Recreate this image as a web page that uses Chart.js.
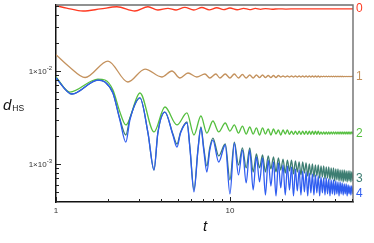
<!DOCTYPE html>
<html>
<head>
<meta charset="utf-8">
<script src="https://cdn.jsdelivr.net/npm/chart.js@4.4.1/dist/chart.umd.min.js"></script>
<style>
  html, body { margin: 0; padding: 0; background: #fff; }
  canvas { display: block; }
</style>
</head>
<body>
<canvas id="chart" width="374" height="243"></canvas>
<script>
// axis ticks
const xTickVals = [1, 2, 3, 4, 5, 6, 7, 8, 9, 10, 20, 30, 40, 50];
const xLabelVals = [1, 10];
const yTickVals = [4e-4, 5e-4, 6e-4, 7e-4, 8e-4, 9e-4, 1e-3, 2e-3, 3e-3, 4e-3, 5e-3, 6e-3, 7e-3, 8e-3, 9e-3, 1e-2, 2e-2, 3e-2, 4e-2, 5e-2];
const yLabelVals = [1e-3, 1e-2];
const yLabelExp = ['-3', '-2'];

// series names / end levels (right-hand labels)
const seriesNames = ['0', '1', '2', '3', '4'];
const seriesColors = ['#ff3a22', '#c4925e', '#55bf3f', '#3d7d72', '#2f5df0'];
const labelLevels = [0.0470, 0.00873, 0.00215, 0.000707, 0.000480];

// early part of each curve: [t, d_HS]
const redPts = [[1, 0.0504], [1.15, 0.0476], [1.43, 0.0442], [1.8, 0.0465], [2.24, 0.0491], [2.84, 0.0442], [3.38, 0.0491],
  [3.85, 0.0453], [4.4, 0.0472], [4.9, 0.0453], [5.5, 0.0484], [6.2, 0.0453], [6.9, 0.0482], [7.6, 0.0455], [8.4, 0.0479],
  [9.2, 0.0457], [10, 0.0476], [11, 0.0456], [12, 0.0473], [13, 0.0458], [14, 0.0471], [15, 0.0461], [16, 0.0469],
  [17.5, 0.0462], [19, 0.0467], [21, 0.0464], [24, 0.0466], [51, 0.0466]];

const brownHead = [[1, 0.0150], [1.2, 0.0110], [1.47, 0.00852], [1.99, 0.0128], [2.59, 0.00762], [3.25, 0.0105], [4.06, 0.00862],
  [4.64, 0.0100], [5.16, 0.00841], [5.74, 0.00952], [6.45, 0.00862], [7.18, 0.00929], [7.66, 0.00841], [8.30, 0.00929], [8.76, 0.00841]];

const greenHead = [[1, 0.00862], [1.2, 0.00594], [1.743, 0.00820], [1.912, 0.00800], [2.125, 0.00625], [2.33, 0.00362], [2.52, 0.00263],
  [3.04, 0.00580], [3.66, 0.00221], [4.23, 0.00410], [4.96, 0.00263], [5.66, 0.00354], [6.21, 0.00205], [6.81, 0.00328],
  [7.37, 0.00215], [7.98, 0.00290], [8.62, 0.00221]];

const tealHead = [[1, 0.00841], [1.235, 0.00566], [1.743, 0.00800], [1.912, 0.00762], [2.125, 0.00580], [2.33, 0.00305], [2.52, 0.00205],
  [2.66, 0.00310], [3.04, 0.00513], [3.38, 0.00215], [3.66, 0.000862], [3.85, 0.00215], [4.23, 0.00362], [4.7, 0.00210],
  [4.96, 0.00164], [5.2, 0.00220], [5.66, 0.00283], [5.9, 0.00145], [6.21, 0.000525], [6.55, 0.00145], [6.81, 0.00250],
  [7.07, 0.00150], [7.37, 0.000952], [7.66, 0.00150], [7.98, 0.00190], [8.62, 0.00122]];

const blueHead = [[1, 0.00841], [1.235, 0.00566], [1.743, 0.00800], [1.912, 0.00762], [2.125, 0.00580], [2.33, 0.00297], [2.52, 0.00172],
  [2.66, 0.00297], [3.04, 0.00513], [3.38, 0.00215], [3.66, 0.000862], [3.85, 0.00215], [4.23, 0.00362], [4.7, 0.00205],
  [4.96, 0.00152], [5.2, 0.00215], [5.66, 0.00276], [5.9, 0.00141], [6.21, 0.000500], [6.55, 0.00141], [6.81, 0.00244],
  [7.07, 0.00141], [7.37, 0.00082], [7.66, 0.00141], [7.98, 0.00181], [8.62, 0.00105]];

// late part: extrema times shared by the oscillating curves
const tTail = [9.4, 10.0, 10.6, 11.2, 11.8, 12.4, 13.0, 13.6, 14.2, 14.8, 15.4, 16.0, 16.6, 17.2, 17.8, 18.4, 19.0, 19.6, 20.2, 20.8,
  21.4, 22.0, 22.6, 23.2, 23.8, 24.4, 25.0, 25.6, 26.2, 26.8, 27.4, 28.0, 28.6, 29.2, 29.8, 30.4, 31.0, 31.6, 32.2, 32.8,
  33.4, 34.0, 34.6, 35.2, 35.8, 36.4, 37.0, 37.6, 38.2, 38.8, 39.4, 40.0, 40.6, 41.2, 41.8, 42.4, 43.0, 43.6, 44.2, 44.8,
  45.4, 46.0, 46.6, 47.2, 47.8, 48.4, 49.0, 49.6, 50.2, 51.0];

const brownTail = [0.00929, 0.00841, 0.00929, 0.00841, 0.00917, 0.00841, 0.00906, 0.00841, 0.00906, 0.00851,
  0.00906, 0.00851, 0.00895, 0.00851, 0.00895, 0.00851, 0.00895, 0.00862, 0.00884, 0.00862,
  0.00884, 0.00862, 0.00884, 0.00862, 0.00884, 0.00862, 0.00884, 0.00862, 0.00884, 0.00862,
  0.00884, 0.00862, 0.00884, 0.00862, 0.00884, 0.00862, 0.00884, 0.00862, 0.00884, 0.00862,
  0.00878, 0.00868, 0.00878, 0.00868, 0.00878, 0.00868, 0.00878, 0.00868, 0.00878, 0.00868,
  0.00878, 0.00868, 0.00878, 0.00868, 0.00878, 0.00868, 0.00878, 0.00868, 0.00878, 0.00868,
  0.00876, 0.00870, 0.00876, 0.00870, 0.00876, 0.00870, 0.00876, 0.00870, 0.00876, 0.00872];

const greenTail = [0.00276, 0.00226, 0.00263, 0.00215, 0.00256, 0.00210, 0.00250, 0.00210, 0.00244, 0.00205,
  0.00244, 0.00210, 0.00238, 0.00205, 0.00238, 0.00210, 0.00232, 0.00205, 0.00232, 0.00210,
  0.00232, 0.00208, 0.00226, 0.00208, 0.00226, 0.00208, 0.00226, 0.00208, 0.00226, 0.00208,
  0.00226, 0.00208, 0.00226, 0.00208, 0.00226, 0.00208, 0.00226, 0.00208, 0.00226, 0.00208,
  0.00222, 0.00210, 0.00222, 0.00210, 0.00222, 0.00210, 0.00222, 0.00210, 0.00222, 0.00210,
  0.00222, 0.00210, 0.00222, 0.00210, 0.00222, 0.00210, 0.00222, 0.00210, 0.00222, 0.00210,
  0.00222, 0.00210, 0.00222, 0.00210, 0.00222, 0.00210, 0.00222, 0.00210, 0.00222, 0.00210];

const tealTail = [0.00164, 0.000673, 0.00172, 0.000975, 0.00149, 0.000906, 0.00149, 0.000820, 0.00128, 0.000906,
  0.00125, 0.000820, 0.00122, 0.000884, 0.00119, 0.000820, 0.00116, 0.000862, 0.00113, 0.000800,
  0.00110, 0.000841, 0.00110, 0.000781, 0.00108, 0.000820, 0.00105, 0.000762, 0.00105, 0.000800,
  0.00103, 0.000743, 0.00100, 0.000762, 0.00100, 0.000725, 0.000975, 0.000743, 0.000975, 0.000707,
  0.000952, 0.000725, 0.000952, 0.000690, 0.000928, 0.000707, 0.000928, 0.000673, 0.000906, 0.000690,
  0.000906, 0.000657, 0.000884, 0.000673, 0.000884, 0.000657, 0.000862, 0.000657, 0.000862, 0.000641,
  0.000862, 0.000657, 0.000841, 0.000641, 0.000841, 0.000657, 0.000841, 0.000641, 0.000820, 0.000657];

const blueTail = [0.00160, 0.000476, 0.00168, 0.000762, 0.00141, 0.000625, 0.00141, 0.000525, 0.00119, 0.000641,
  0.00116, 0.000464, 0.00110, 0.000580, 0.00105, 0.000453, 0.00103, 0.000552, 0.000975, 0.000464,
  0.000952, 0.000525, 0.000928, 0.000453, 0.000884, 0.000513, 0.000862, 0.000464, 0.000841, 0.000500,
  0.000820, 0.000453, 0.000800, 0.000488, 0.000781, 0.000464, 0.000762, 0.000488, 0.000743, 0.000453,
  0.000725, 0.000488, 0.000707, 0.000464, 0.000707, 0.000476, 0.000690, 0.000453, 0.000673, 0.000476,
  0.000673, 0.000464, 0.000657, 0.000476, 0.000641, 0.000453, 0.000641, 0.000476, 0.000625, 0.000464,
  0.000609, 0.000476, 0.000609, 0.000453, 0.000594, 0.000476, 0.000580, 0.000464, 0.000580, 0.000476];

const FONT = "'Liberation Sans', Arial, sans-serif";

const toPoints = function (head, tail) {
    const out = head.map(p => ({ x: p[0], y: p[1] }));
    if (tail) {
        tTail.forEach((t, i) => { out.push({ x: t, y: tail[i] }); });
    }
    return out;
};

const seriesData = [
    toPoints(redPts),
    toPoints(brownHead, brownTail),
    toPoints(greenHead, greenTail),
    toPoints(tealHead, tealTail),
    toPoints(blueHead, blueTail)
];

const datasets = seriesData.map((d, i) => ({
    label: seriesNames[i],
    data: d,
    borderColor: seriesColors[i],
    borderWidth: 1.3,
    pointRadius: 0,
    cubicInterpolationMode: 'monotone',
    order: 4 - i
}));

const overlay = {
    id: 'overlay',
    afterDatasetsDraw(chart) {
        const { ctx, chartArea: a, scales: { x, y } } = chart;
        ctx.save();

        // top and right frame
        ctx.strokeStyle = '#6e6e6e';
        ctx.lineWidth = 1.4;
        ctx.beginPath();
        ctx.moveTo(a.left, a.top);
        ctx.lineTo(a.right, a.top);
        ctx.lineTo(a.right, a.bottom);
        ctx.stroke();

        // inward tick marks
        ctx.strokeStyle = '#222';
        ctx.lineWidth = 1;
        for (const v of xTickVals) {
            const px = Math.round(x.getPixelForValue(v)) + 0.5;
            const len = xLabelVals.includes(v) ? 5 : 3;
            ctx.beginPath();
            ctx.moveTo(px, a.bottom);
            ctx.lineTo(px, a.bottom - len);
            ctx.stroke();
        }
        for (const v of yTickVals) {
            const py = Math.round(y.getPixelForValue(v)) + 0.5;
            const len = yLabelVals.includes(v) ? 5 : 3;
            ctx.beginPath();
            ctx.moveTo(a.left, py);
            ctx.lineTo(a.left + len, py);
            ctx.stroke();
        }

        // y tick labels 1x10^n
        ctx.fillStyle = '#333';
        ctx.textBaseline = 'middle';
        ctx.textAlign = 'left';
        yLabelVals.forEach((v, i) => {
            const py = y.getPixelForValue(v);
            ctx.font = '8px ' + FONT;
            const w1 = ctx.measureText('1\u00d710').width;
            ctx.font = '6px ' + FONT;
            const w2 = ctx.measureText(yLabelExp[i]).width;
            const x0 = a.left - 4 - w1 - w2;
            ctx.font = '8px ' + FONT;
            ctx.fillText('1\u00d710', x0, py + 0.5);
            ctx.font = '6px ' + FONT;
            ctx.fillText(yLabelExp[i], x0 + w1, py - 3);
        });

        // axis titles
        ctx.fillStyle = '#111';
        ctx.textBaseline = 'alphabetic';
        ctx.font = 'italic 15px ' + FONT;
        ctx.fillText('d', 3, 110);
        const dw = ctx.measureText('d').width;
        ctx.font = '8.5px ' + FONT;
        ctx.fillText('HS', 3 + dw + 1, 111);
        ctx.font = 'italic 15px ' + FONT;
        ctx.textAlign = 'center';
        ctx.fillText('t', 205, 231);

        // series labels at the right
        ctx.textAlign = 'left';
        ctx.textBaseline = 'middle';
        ctx.font = '12px ' + FONT;
        seriesNames.forEach((n, i) => {
            ctx.fillStyle = seriesColors[i];
            ctx.fillText(n, a.right + 3, y.getPixelForValue(labelLevels[i]) + 0.5);
        });

        ctx.restore();
    }
};

const chart = new Chart(document.getElementById('chart'), {
    type: 'line',
    data: { datasets: datasets },
    options: {
        responsive: false,
        animation: false,
        layout: { padding: { left: 0, right: 21, top: 5, bottom: 0 } },
        plugins: { legend: { display: false }, tooltip: { enabled: false } },
        scales: {
            x: {
                type: 'logarithmic',
                min: 1,
                max: 51,
                afterBuildTicks: (s) => { s.ticks = xTickVals.map(v => ({ value: v })); },
                afterFit: (s) => { s.height = 41; },
                grid: { display: false, drawTicks: false },
                border: { display: true, color: '#111', width: 1.5 },
                ticks: {
                    autoSkip: false,
                    maxRotation: 0,
                    padding: 4,
                    color: '#333',
                    font: { family: FONT, size: 8 },
                    callback: (v) => xLabelVals.includes(v) ? String(v) : ''
                }
            },
            y: {
                type: 'logarithmic',
                min: 3.9e-4,
                max: 0.0513,
                afterBuildTicks: (s) => { s.ticks = yTickVals.map(v => ({ value: v })); },
                afterFit: (s) => { s.width = 56; },
                grid: { display: false, drawTicks: false },
                border: { display: true, color: '#111', width: 1.5 },
                ticks: { display: false }
            }
        }
    },
    plugins: [overlay]
});
</script>
</body>
</html>
